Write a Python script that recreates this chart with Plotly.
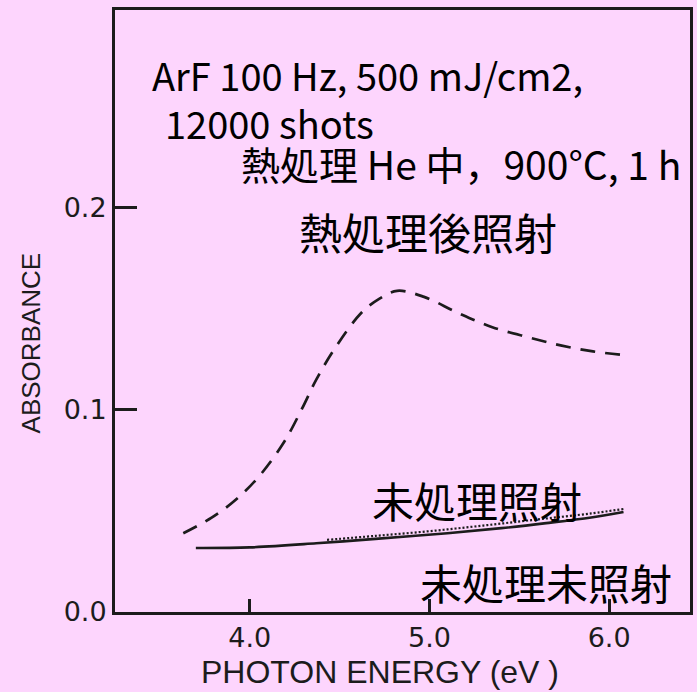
import plotly.graph_objects as go

# Data
dash_x = [3.63, 3.79, 3.93, 4.055, 4.19, 4.29, 4.37, 4.47, 4.62, 4.72, 4.82, 4.97,
          5.16, 5.35, 5.55, 5.73, 5.91, 6.10]
dash_y = [0.039, 0.0468, 0.0562, 0.0675, 0.084, 0.1005, 0.115, 0.130, 0.148, 0.155, 0.159,
          0.156, 0.148, 0.141, 0.136, 0.132, 0.129, 0.127]

solid_x = [3.70, 4.00, 4.37, 4.70, 5.10, 5.40, 5.65, 5.90, 6.08]
solid_y = [0.0317, 0.0320, 0.0340, 0.0362, 0.0390, 0.0415, 0.0440, 0.0468, 0.0495]

dot_x = [4.43, 4.70, 5.00, 5.30, 5.60, 5.90, 6.08]
dot_y = [0.0357, 0.0377, 0.0400, 0.0428, 0.0458, 0.0488, 0.0510]

x_ticks = [4.0, 5.0, 6.0]
x_tick_labels = ["4.0", "5.0", "6.0"]
y_ticks = [0.0, 0.1, 0.2]
y_tick_labels = ["0.0", "0.1", "0.2"]

labels = ["ArF 100 Hz, 500 mJ/cm2,", "12000 shots", "熱処理 He 中，900°C, 1 h",
          "熱処理後照射", "未処理照射", "未処理未照射"]

W, H = 697, 692
L, R, T, B = 115, 4, 10, 80
PW, PH = W - L - R, H - T - B
BG = "#FDD5FD"
INK = "#1c1c1c"


def px(x):
    return (x - L) / PW


def py(y):
    return (H - B - y) / PH


fig = go.Figure()
fig.add_trace(go.Scatter(x=dash_x, y=dash_y, mode="lines", line_shape="spline",
                         line=dict(color=INK, width=2.7, dash="15px,10px"), showlegend=False))
fig.add_trace(go.Scatter(x=dot_x, y=dot_y, mode="lines", line_shape="spline",
                         line=dict(color=INK, width=2.2, dash="2px,2px"), showlegend=False))
fig.add_trace(go.Scatter(x=solid_x, y=solid_y, mode="lines", line_shape="spline",
                         line=dict(color=INK, width=2.6), showlegend=False))

sizes = [38, 38, 39, 43, 42, 42]
positions = [(150, 74), (163, 123), (240, 163), (298, 231), (371, 499), (420, 581)]
for txt, (ax, ay), fs in zip(labels, positions, sizes):
    fig.add_annotation(text=txt, xref="paper", yref="paper", x=px(ax), y=py(ay),
                       xanchor="left", yanchor="middle", showarrow=False,
                       font=dict(family="Noto Sans CJK JP", size=fs, color="black"))

fig.add_annotation(text="ABSORBANCE", xref="paper", yref="paper", x=px(31), y=py(343),
                   xanchor="center", yanchor="middle", textangle=-90, showarrow=False,
                   font=dict(family="Liberation Sans", size=26, color=INK))
fig.add_annotation(text="PHOTON ENERGY (eV )", xref="paper", yref="paper", x=px(381), y=py(672),
                   xanchor="center", yanchor="middle", showarrow=False,
                   font=dict(family="Liberation Sans", size=32, color=INK))

fig.update_xaxes(range=[3.25, 6.45], tickvals=x_ticks, ticktext=x_tick_labels,
                 ticks="inside", ticklen=13, tickwidth=2.5, tickcolor=INK,
                 showline=True, linecolor=INK, linewidth=3, mirror=True,
                 showgrid=False, zeroline=False,
                 tickfont=dict(family="DejaVu Sans", size=27, color=INK))
fig.update_yaxes(range=[0, 0.298], tickvals=y_ticks, ticktext=y_tick_labels,
                 ticks="inside", ticklen=22, tickwidth=2.5, tickcolor=INK,
                 showline=True, linecolor=INK, linewidth=3, mirror=True,
                 showgrid=False, zeroline=False,
                 tickfont=dict(family="DejaVu Sans", size=27, color=INK))

fig.update_layout(width=W, height=H, margin=dict(l=L, r=R, t=T, b=B),
                  paper_bgcolor=BG, plot_bgcolor=BG, showlegend=False)

fig.write_html("out.html")
